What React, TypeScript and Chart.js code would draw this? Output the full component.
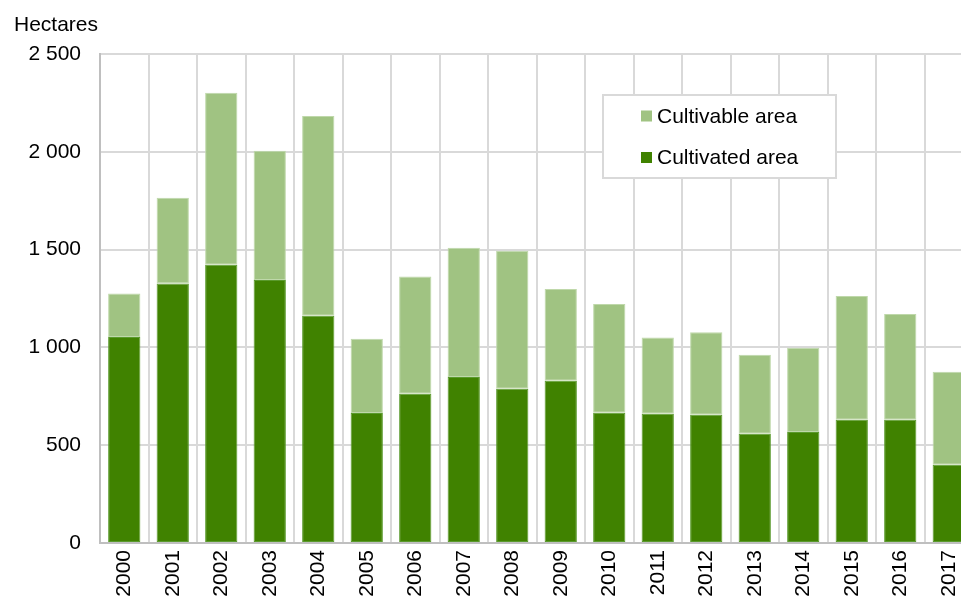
import React, { useEffect, useRef } from "react";
import { Chart, registerables } from "chart.js";

Chart.register(...registerables);

const years = ["2000","2001","2002","2003","2004","2005","2006","2007","2008","2009","2010","2011","2012","2013","2014","2015","2016","2017"];
const cultivableArea = [1276, 1765, 2302, 2006, 2183, 1044, 1363, 1510, 1494, 1299, 1222, 1051, 1077, 963, 998, 1263, 1171, 876];
const cultivatedArea = [1053, 1327, 1423, 1345, 1162, 665, 763, 849, 789, 830, 666, 661, 656, 559, 568, 630, 630, 400];
const seriesLabels = ["Cultivable area", "Cultivated area"];
const yTicks = [0, 500, 1000, 1500, 2000, 2500];
const yTitle = "Hectares";

const FONT = '"Liberation Sans", Arial, Helvetica, sans-serif';
const LIGHT = "#a0c382";
const DARK = "#408200";

const fmt = (v: number) => String(v).replace(/\B(?=(\d{3})+(?!\d))/g, " ");

const overlayPlugin = {
  id: "overlay",
  afterDraw(chart: any) {
    const ctx = chart.ctx;
    ctx.save();
    // axis title
    ctx.font = `21px ${FONT}`;
    ctx.fillStyle = "#000";
    ctx.textAlign = "left";
    ctx.textBaseline = "alphabetic";
    ctx.fillText(yTitle, 14, 30.5);
    // legend box
    const bx = 603, by = 95, bw = 233, bh = 83;
    ctx.fillStyle = "#fff";
    ctx.fillRect(bx, by, bw, bh);
    ctx.strokeStyle = "#d9d9d9";
    ctx.lineWidth = 2;
    ctx.strokeRect(bx, by, bw, bh);
    const rows = [116, 157.5];
    chart.data.datasets.forEach((ds: any, i: number) => {
      const cy = rows[i];
      ctx.fillStyle = ds.backgroundColor;
      ctx.fillRect(641, cy - 5.5, 11, 11);
      ctx.fillStyle = "#000";
      ctx.textBaseline = "middle";
      ctx.fillText(ds.label, 657, cy + 1);
    });
    ctx.restore();
  },
};

export default function App() {
  const ref = useRef<HTMLCanvasElement | null>(null);
  useEffect(() => {
    if (!ref.current) return;
    const chart = new Chart(ref.current, {
      type: "bar",
      data: {
        labels: years,
        datasets: [
          {
            label: seriesLabels[0],
            data: cultivatedArea.map((c, i) => [c, cultivableArea[i]]) as any,
            backgroundColor: LIGHT,
            borderColor: "#bfd8aa",
            borderWidth: 1,
            borderSkipped: false,
            barPercentage: 0.665,
            categoryPercentage: 1,
          },
          {
            label: seriesLabels[1],
            data: cultivatedArea,
            backgroundColor: DARK,
            borderColor: "#5a9a2c",
            borderWidth: 1,
            borderSkipped: false,
            barPercentage: 0.665,
            categoryPercentage: 1,
          },
        ],
      },
      options: {
        responsive: false,
        animation: false,
        layout: { padding: { top: 54, left: 0, right: 12, bottom: 0 } },
        plugins: { legend: { display: false }, tooltip: { enabled: false }, title: { display: false } },
        scales: {
          x: {
            stacked: true,
            grid: { color: "#d9d9d9", lineWidth: 2, drawTicks: false, offset: true },
            border: { color: "#bfbfbf", width: 2 },
            ticks: {
              color: "#000",
              font: { family: FONT, size: 21 },
              minRotation: 90,
              maxRotation: 90,
              padding: 7,
              autoSkip: false,
            },
            afterFit(scale: any) { scale.height = 62; },
          },
          y: {
            stacked: false,
            min: 0,
            max: 2500,
            afterBuildTicks(scale: any) { scale.ticks = yTicks.map((v) => ({ value: v })); },
            grid: { color: "#d9d9d9", lineWidth: 2, drawTicks: false },
            border: { color: "#bfbfbf", width: 2 },
            ticks: {
              color: "#000",
              font: { family: FONT, size: 21 },
              padding: 19,
              callback: (v: any) => fmt(Number(v)),
            },
            afterFit(scale: any) { scale.width = 100; },
          },
        },
      },
      plugins: [overlayPlugin],
    });
    return () => chart.destroy();
  }, []);
  return (
    <div style={{ position: "fixed", left: 0, top: 0, width: 961, height: 597, overflow: "hidden", background: "#fff" }}>
      <canvas ref={ref} width={985} height={605} style={{ display: "block", width: 985, height: 605 }} />
    </div>
  );
}
